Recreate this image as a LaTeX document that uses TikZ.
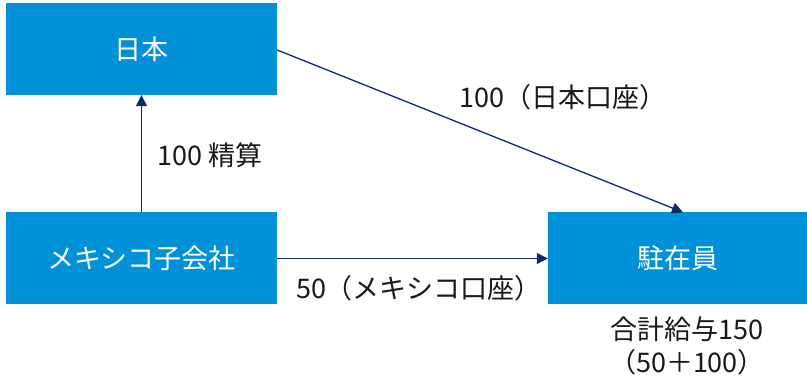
\documentclass[tikz,border=0pt]{standalone}
\usepackage{fontspec}
\setmainfont{Noto Sans CJK JP}
\usetikzlibrary{arrows.meta}
\definecolor{boxblue}{HTML}{0091D9}
\definecolor{navy}{HTML}{0D2A6B}
\begin{document}
\begin{tikzpicture}[x=1pt,y=1pt,
  bluebox/.style={rectangle,fill=boxblue,text=white,minimum height=92pt,inner sep=0pt,font=\fontsize{27}{32}\selectfont},
  conn/.style={draw=navy,line width=1.3pt,-{Triangle[length=11pt,width=11pt]}},
  lbl/.style={text=black!90,font=\fontsize{27}{32}\selectfont,inner sep=0pt}]
\useasboundingbox (0,0) rectangle (807,383);
\node[bluebox,minimum width=271pt] (nihon) at (141.5,334) {日本};
\node[bluebox,minimum width=271pt] (mex) at (141.5,124.5) {メキシコ子会社};
\node[bluebox,minimum width=259pt] (zai) at (677.5,124.5) {駐在員};
\coordinate (zaitop) at ([xshift=5.5pt]zai.north);
\coordinate (nihonr) at ([yshift=-1pt]nihon.east);
\draw[conn] (nihonr) -- (zaitop);
\draw[conn] (mex.north) -- (nihon.south);
\draw[conn] (mex.east) -- (zai.west);
\node[lbl] (l1) at (563,286) {100（日本口座）};
\node[lbl] (l2) at (210,228) {100 精算};
\node[lbl] (l3) at (419,95) {50（メキシコ口座）};
\node[lbl,align=center,font=\fontsize{27}{33}\selectfont] (l4) at (687,37) {合計給与150\\（50＋100）};
\end{tikzpicture}
\end{document}
